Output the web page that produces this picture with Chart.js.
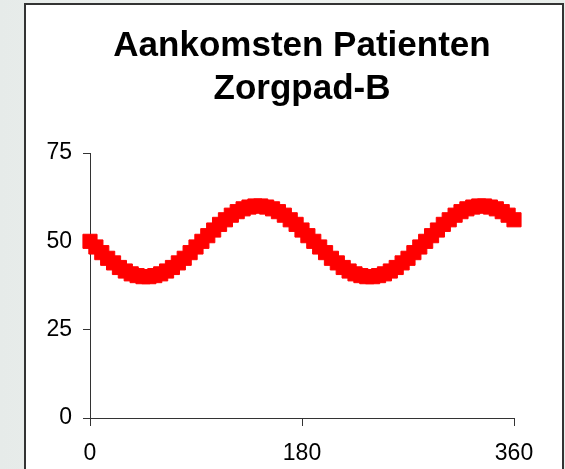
<!DOCTYPE html>
<html>
<head>
<meta charset="utf-8">
<script src="https://cdn.jsdelivr.net/npm/chart.js@4/dist/chart.umd.min.js"></script>
<style>
  html, body { margin: 0; padding: 0; }
  body {
    width: 565px; height: 469px; overflow: hidden; position: relative;
    background: linear-gradient(90deg, #e6ebe9 0%, #eff2f0 40%, #e8edea 100%);
  }
  #frame {
    position: absolute; left: 24px; top: 3px; width: 536px; height: 480px;
    border: 2px solid #333; border-bottom: none; background: #fff;
  }
  #wrap { position: absolute; left: 0; top: 0; width: 565px; height: 469px; }
</style>
</head>
<body>
<div id="frame"></div>
<div id="wrap"><canvas id="c" width="565" height="469"></canvas></div>
<script>
const titleLines = ['Aankomsten Patienten', 'Zorgpad-B'];
const xTicks = [0, 180, 360];
const yTicks = [0, 25, 50, 75];
const xValues = [0,5,10,15,20,25,30,35,40,45,50,55,60,65,70,75,80,85,90,95,
  100,105,110,115,120,125,130,135,140,145,150,155,160,165,170,175,180,185,190,195,
  200,205,210,215,220,225,230,235,240,245,250,255,260,265,270,275,280,285,290,295,
  300,305,310,315,320,325,330,335,340,345,350,355,360];
const arrivals = [50,48.4,46.8,45.2,43.9,42.6,41.6,40.8,40.3,40.0,40.0,40.3,40.8,41.6,42.6,43.9,45.2,46.8,48.4,50,
  51.6,53.2,54.8,56.1,57.4,58.4,59.2,59.7,60.0,60.0,59.7,59.2,58.4,57.4,56.1,54.8,53.2,51.6,50,48.4,
  46.8,45.2,43.9,42.6,41.6,40.8,40.3,40.0,40.0,40.3,40.8,41.6,42.6,43.9,45.2,46.8,48.4,50,51.6,53.2,
  54.8,56.1,57.4,58.4,59.2,59.7,60.0,60.0,59.7,59.2,58.4,57.4,56.1];

const points = xValues.map((x, i) => ({ x: x, y: arrivals[i] }));
const FONT = "'Liberation Sans', Arial, Helvetica, sans-serif";

new Chart(document.getElementById('c'), {
  type: 'line',
  data: {
    datasets: [{
      data: points,
      borderColor: '#ff0000',
      backgroundColor: '#ff0000',
      borderWidth: 6,
      pointStyle: 'rect',
      pointRadius: 10,
      pointBorderWidth: 1,
      pointHoverRadius: 10,
      tension: 0,
      clip: false
    }]
  },
  options: {
    responsive: false,
    animation: false,
    layout: { padding: { left: 0, right: 51, top: 0, bottom: 0 } },
    plugins: {
      legend: { display: false },
      tooltip: { enabled: false },
      title: {
        display: true,
        fullSize: false,
        text: titleLines,
        color: '#000',
        font: { family: FONT, size: 35, weight: 'bold', lineHeight: 1.22 },
        padding: { top: 25, bottom: 42.6 }
      }
    },
    scales: {
      x: {
        type: 'linear',
        min: 0, max: 360,
        afterBuildTicks: (s) => { s.ticks = xTicks.map(v => ({ value: v })); },
        afterFit: (s) => { s.height = 51; },
        grid: { drawOnChartArea: false, drawTicks: true, tickLength: 8, color: '#333' },
        border: { color: '#333', width: 1 },
        ticks: { color: '#000', font: { family: FONT, size: 23 }, padding: 14, maxRotation: 0 }
      },
      y: {
        min: 0, max: 75,
        afterBuildTicks: (s) => { s.ticks = yTicks.map(v => ({ value: v })); },
        afterFit: (s) => { s.width = 90; },
        grid: { drawOnChartArea: false, drawTicks: true, tickLength: 7, color: '#333' },
        border: { color: '#333', width: 1 },
        ticks: { color: '#000', font: { family: FONT, size: 23 }, padding: 11 }
      }
    }
  }
});
</script>
</body>
</html>
